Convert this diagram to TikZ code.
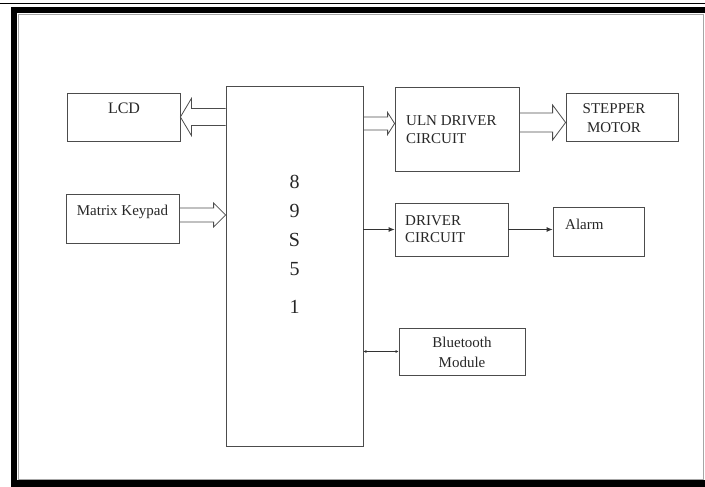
\documentclass[tikz,border=0pt]{standalone}
\usepackage{fontspec}
\setmainfont{Liberation Serif}
\usetikzlibrary{positioning,calc,arrows.meta}

\tikzset{
  blk/.style={draw=black!70, line width=0.8pt, inner sep=0pt},
  lbl/.style={inner sep=0pt, text=black!85, font=\fontsize{15}{18}\selectfont},
  % open block arrow: shaft half width, head half width, head length
  hollow/.style n args={3}{draw=black!70, line width=0.8pt, to path={
      let \p1=(\tikztostart), \p2=(\tikztotarget),
          \n2={\x2+#3*(\x1-\x2)/abs(\x1-\x2)} in
      (\x1,\y1+#1) -- (\n2,\y1+#1) -- (\n2,\y1+#2) -- (\x2,\y1)
      -- (\n2,\y1-#2) -- (\n2,\y1-#1) -- (\x1,\y1-#1)}},
  thin/.style={draw=black!80, line width=0.8pt, -{Latex[length=6pt,width=5pt]}}
}

\begin{document}
\begin{tikzpicture}[x=1pt,y=-1pt]
  \useasboundingbox (0,0) rectangle (705,487);
  % page frame
  \draw[line width=0.8pt] (0,3.5) -- (705,3.5);
  \draw[line width=6.5pt] (14,10) rectangle (715,483.5);
  \draw[black!35, line width=0.8pt] (18.5,14.5) rectangle (703,479);

  % blocks
  \node[blk, minimum width=137pt, minimum height=360pt] (main) at (294.5,266) {};
  \node[blk, minimum width=113pt, minimum height=48pt] (lcd) at (123.5,117) {};
  \node[blk, minimum width=113pt, minimum height=49pt] (kp) at (122.5,218.5) {};
  \node[blk, minimum width=124pt, minimum height=84pt] (uln) at (457,129) {};
  \node[blk, minimum width=112pt, minimum height=48pt] (stepper) at (622,117) {};
  \node[blk, minimum width=113pt, minimum height=53pt] (driver) at (451.5,229.5) {};
  \node[blk, minimum width=91pt, minimum height=49pt] (alarm) at (598.5,231.5) {};
  \node[blk, minimum width=126pt, minimum height=47pt] (bt) at (462,351.5) {};

  % texts
  \node[lbl, align=center, anchor=north, font=\fontsize{20}{29}\selectfont] (main-t)
       at (294.5,175) {8\\9\\S\\5\\[9pt]1};
  \node[lbl, font=\fontsize{16}{19}\selectfont] (lcd-t) at (124,108) {LCD};
  \node[lbl, anchor=base] (kp-t) at (122.5,215) {Matrix Keypad};
  \node[lbl, align=left, anchor=north west] (uln-t) at (406,115) {ULN DRIVER\\CIRCUIT};
  \node[lbl, align=center, anchor=north, font=\fontsize{15}{19}\selectfont] (stepper-t)
       at (614,103) {STEPPER\\MOTOR};
  \node[lbl, align=left, anchor=north west, font=\fontsize{15}{17}\selectfont] (driver-t)
       at (405,215) {DRIVER\\CIRCUIT};
  \node[lbl, anchor=base west] (alarm-t) at (565,229) {Alarm};
  \node[lbl, align=center, anchor=north, font=\fontsize{15}{20}\selectfont] (bt-t)
       at (462,337) {Bluetooth\\Module};

  % connections
  \coordinate (u1) at ([yshift=5.5pt]uln.west);
  \coordinate (s1) at ([yshift=-5.5pt]stepper.west);
  \coordinate (k1) at ([yshift=3.5pt]kp.east);
  \draw[hollow={8.5pt}{18.5pt}{11pt}] (main.west |- lcd.east) to (lcd.east);
  \draw[hollow={7pt}{12pt}{12pt}] (k1) to (main.west |- k1);
  \draw[hollow={6.5pt}{11pt}{7pt}] (main.east |- u1) to (u1);
  \draw[hollow={9.5pt}{17.5pt}{13pt}] (uln.east |- s1) to (s1);
  \draw[thin] (main.east |- driver.west) -- (driver.west);
  \draw[thin] (driver.east) -- (driver.east -| alarm.west);
  \draw[thin, {Latex[length=3pt,width=3pt]}-{Latex[length=3pt,width=3pt]}]
       (main.east |- bt.west) -- (bt.west);
\end{tikzpicture}
\end{document}
